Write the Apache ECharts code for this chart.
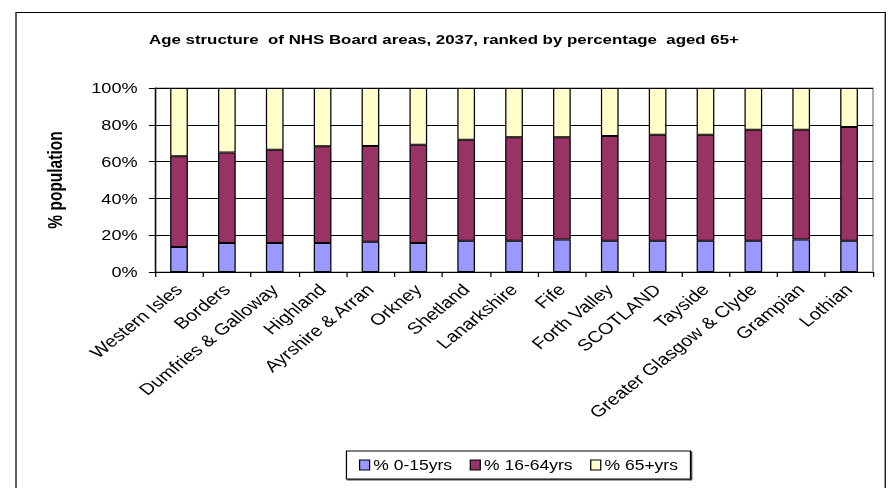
<!DOCTYPE html>
<html>
<head>
<meta charset="utf-8">
<script src="https://cdn.jsdelivr.net/npm/echarts@6/dist/echarts.min.js"></script>
<style>
html,body{margin:0;padding:0;background:#fff;overflow:hidden;}
#wrap{width:888px;height:488px;overflow:hidden;}
#chart{width:710px;height:488px;transform:scaleX(1.2507);transform-origin:0 0;}
</style>
</head>
<body>
<div id="wrap"><div id="chart"></div></div>
<script>
const categories = ['Western Isles','Borders','Dumfries & Galloway','Highland','Ayrshire & Arran','Orkney','Shetland','Lanarkshire','Fife','Forth Valley','SCOTLAND','Tayside','Greater Glasgow & Clyde','Grampian','Lothian'];
const age0to15 = [13.6,15.7,15.7,15.7,16.4,15.7,17.0,17.0,17.7,17.0,17.0,17.0,17.0,17.7,17.0];
const age16to64 = [49.3,49.3,50.7,52.6,52.1,53.5,54.9,56.2,55.5,56.9,57.6,57.6,60.3,59.6,61.8];
const age65plus = [37.1,35.0,33.6,31.7,31.5,30.8,28.1,26.8,26.8,26.1,25.4,25.4,22.7,22.7,21.2];
const seriesNames = ['% 0-15yrs','% 16-64yrs','% 65+yrs'];
const yTicks = [0,20,40,60,80,100];

const FONT = 'Liberation Sans, Arial, sans-serif';
const chart = echarts.init(document.getElementById('chart'), null, {renderer:'svg'});
const barStyle = (c) => ({color:c, borderColor:'#000', borderWidth:1});
chart.setOption({
  animation:false,
  backgroundColor:'#fff',
  textStyle:{fontFamily:FONT},
  graphic:[{type:'rect', shape:{x:12.8,y:12.5,width:695,height:490}, style:{fill:null, stroke:'#000', lineWidth:1}, silent:true}],
  title:{
    text:'Age structure  of NHS Board areas, 2037, ranked by percentage  aged 65+',
    left:'center', top:27,
    textStyle:{fontFamily:FONT, fontSize:13.5, fontWeight:'bold', color:'#000'}
  },
  legend:{
    data:seriesNames,
    left:277, top:451,
    orient:'horizontal',
    padding:[7,10,7,10],
    itemWidth:8, itemHeight:10, itemGap:14,
    borderColor:'#000', borderWidth:1,
    backgroundColor:'#fff',
    shadowColor:'#444', shadowOffsetX:1, shadowOffsetY:1, shadowBlur:0,
    icon:'rect',
    textStyle:{fontFamily:FONT, fontSize:14, color:'#000', padding:[0,0,0,-2]},
    itemStyle:{borderColor:'#000', borderWidth:1}
  },
  grid:{left:124, right:12, top:88, bottom:216, show:true, borderColor:'#808080', borderWidth:1},
  xAxis:{
    type:'category', data:categories, boundaryGap:true,
    axisLine:{lineStyle:{color:'#000', width:1}},
    axisTick:{show:true, length:5, lineStyle:{color:'#000'}},
    axisLabel:{rotate:45, interval:0, fontSize:16, color:'#000', fontFamily:FONT, margin:15}
  },
  yAxis:{
    type:'value', min:0, max:100, interval:20,
    name:'% population', nameLocation:'middle', nameGap:72, nameRotate:90,
    nameTextStyle:{fontFamily:FONT, fontSize:15.5, fontWeight:'bold', color:'#000'},
    axisLine:{show:true, lineStyle:{color:'#000', width:1}},
    axisTick:{show:true, length:5, lineStyle:{color:'#000'}},
    axisLabel:{formatter:(v)=> yTicks.includes(v) ? v+'%' : '', fontSize:14.5, color:'#000', fontFamily:FONT, margin:14},
    splitLine:{show:true, lineStyle:{color:'#000', width:1}}
  },
  series:[
    {name:seriesNames[0], type:'bar', stack:'a', data:age0to15, barWidth:'37%', itemStyle:barStyle('#9999FF')},
    {name:seriesNames[1], type:'bar', stack:'a', data:age16to64, barWidth:'37%', itemStyle:barStyle('#993366')},
    {name:seriesNames[2], type:'bar', stack:'a', data:age65plus, barWidth:'37%', itemStyle:barStyle('#FFFFCC')}
  ]
});
</script>
</body>
</html>
